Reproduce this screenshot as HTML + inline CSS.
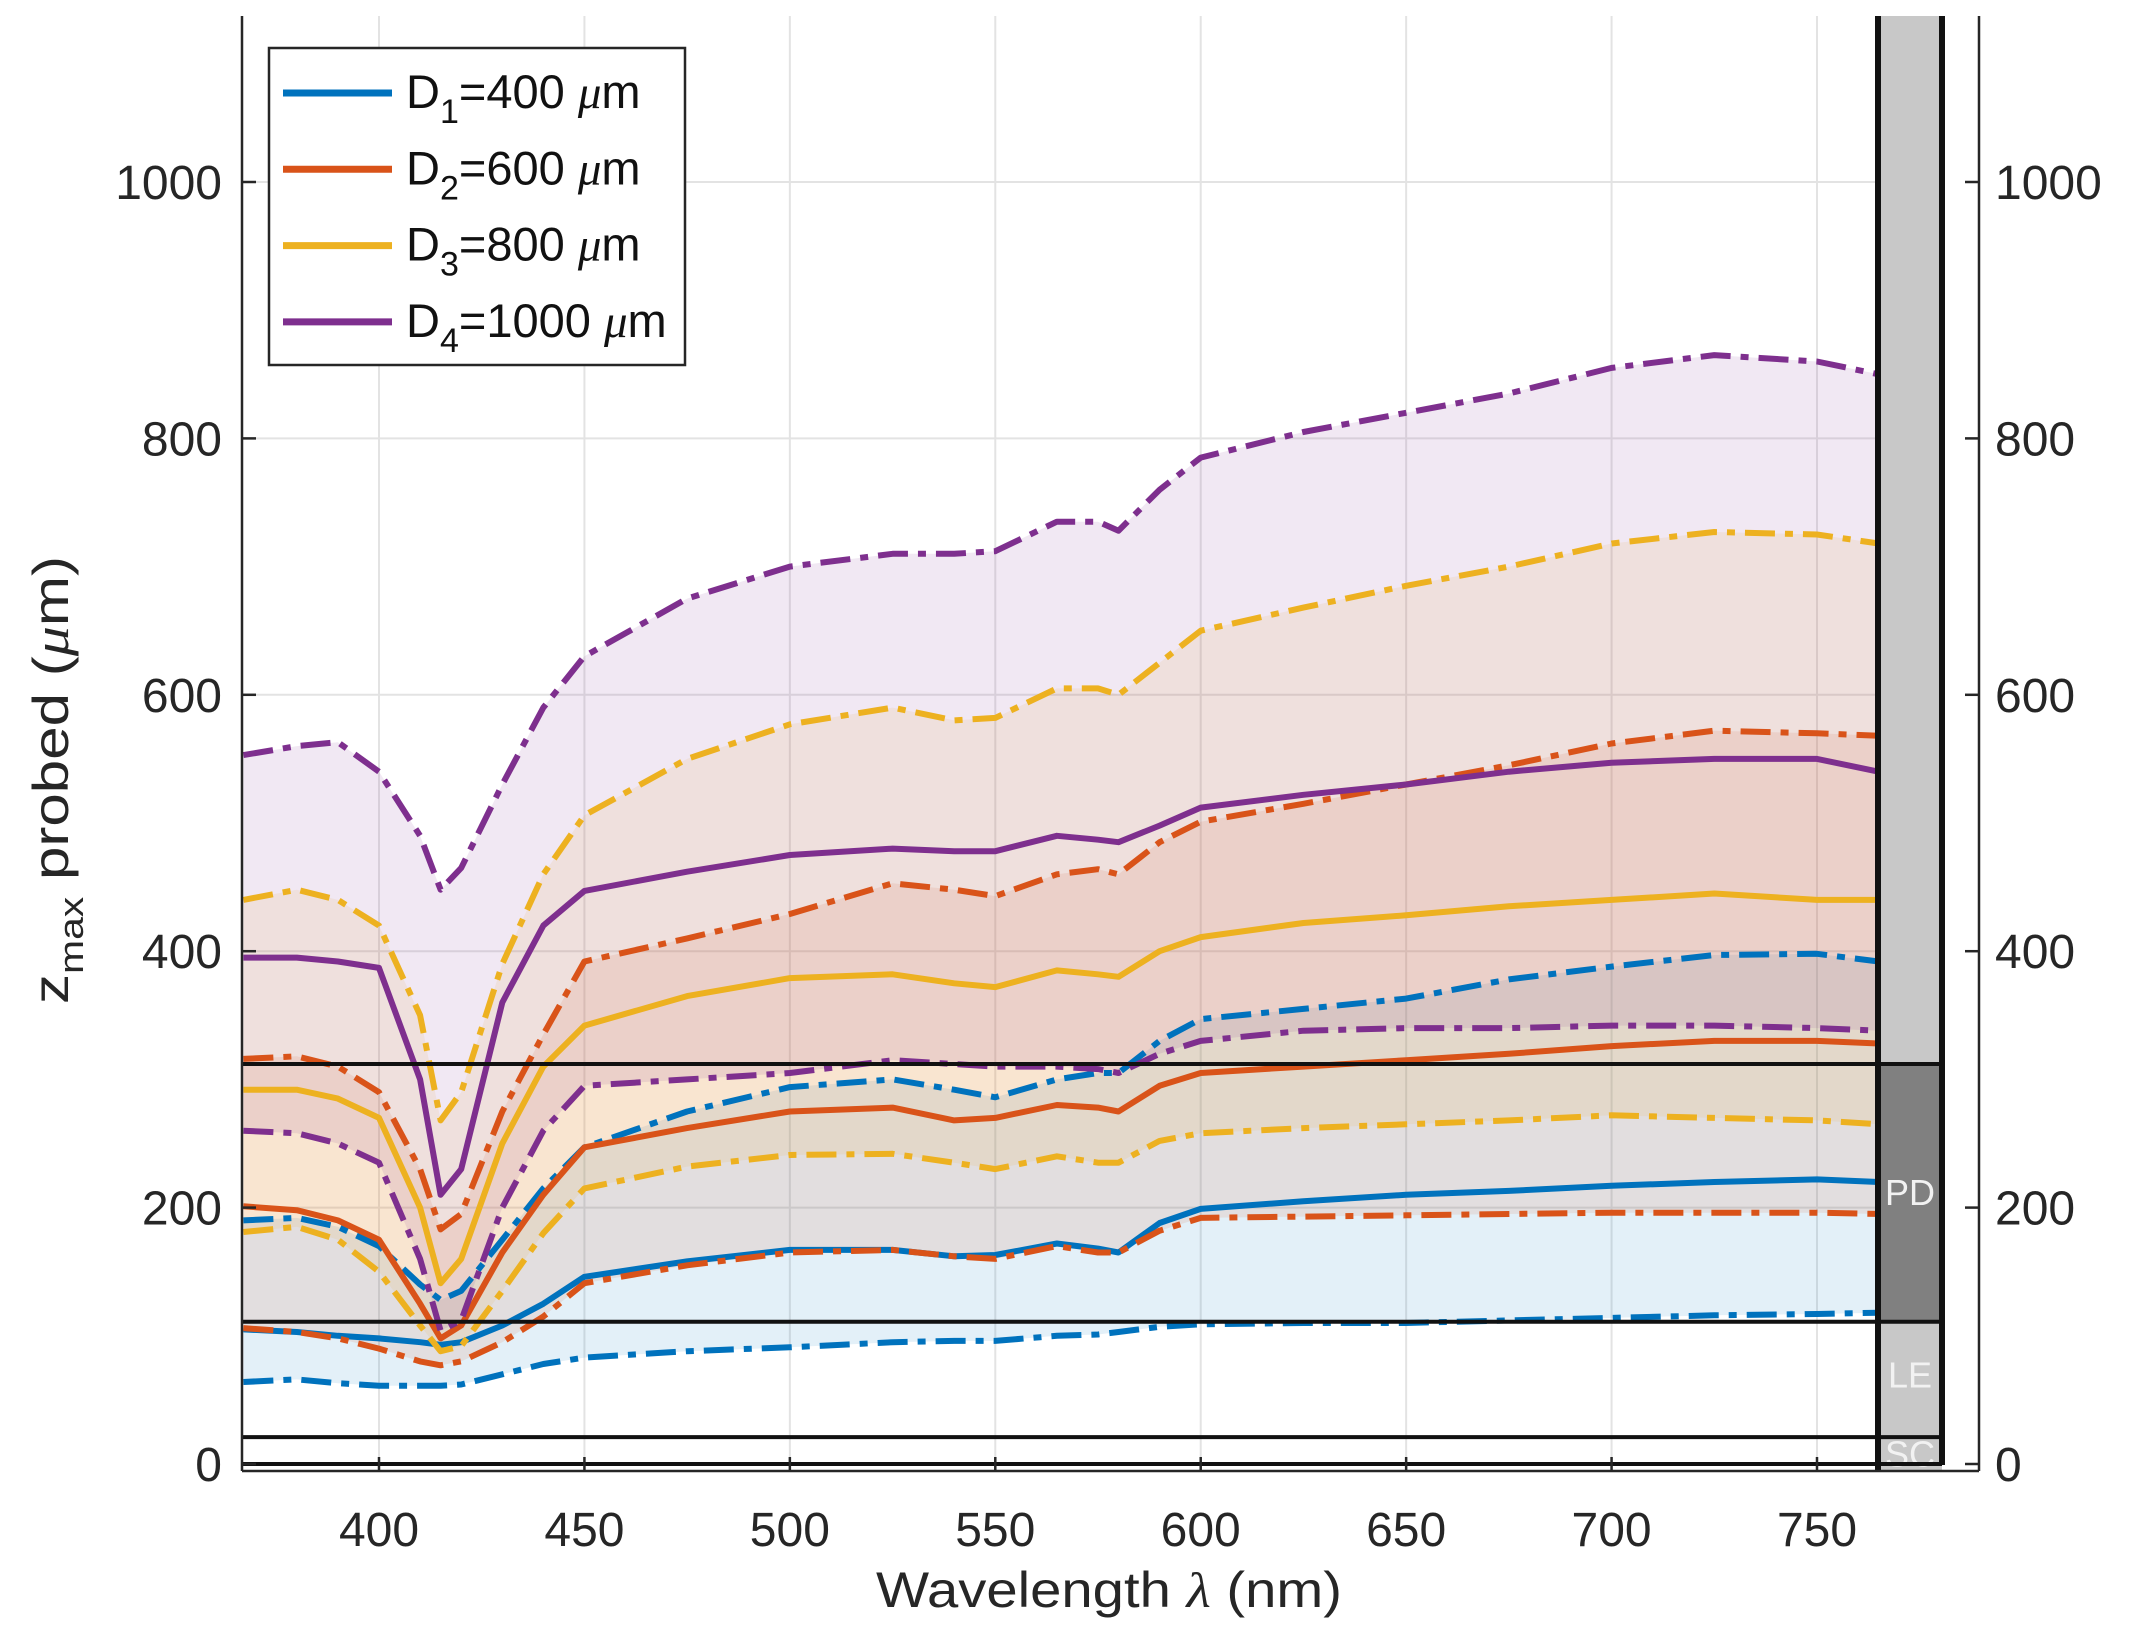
<!DOCTYPE html>
<html><head><meta charset="utf-8"><style>
html,body{margin:0;padding:0;background:#fff;}
svg{display:block;font-family:"Liberation Sans",sans-serif;}
</style></head><body>
<svg id="chart" width="2129" height="1633" viewBox="0 0 2129 1633" xmlns="http://www.w3.org/2000/svg"></svg>
<script>
const wavelengths=[367,380,390,400,410,415,420,430,440,450,475,500,525,540,550,565,575,580,590,600,625,650,675,700,725,750,765];
const d1Upper=[190,192,185,170,140,128,135,175,215,247,275,294,300,292,286,300,305,305,330,347,355,363,378,388,397,398,392];
const d1Mean=[105,103,100,98,95,93,95,108,125,146,158,167,167,162,163,172,168,165,188,199,205,210,213,217,220,222,220];
const d1Lower=[64,66,63,61,61,61,62,70,78,83,88,91,95,96,96,100,101,103,107,109,110,110,112,114,116,117,118];
const d2Upper=[316,318,310,290,230,183,195,275,335,392,410,429,453,448,443,460,464,460,485,501,515,530,545,562,572,570,568];
const d2Mean=[201,198,190,175,125,98,108,165,210,247,262,275,278,268,270,280,278,275,295,305,310,315,320,326,330,330,328];
const d2Lower=[106,103,98,90,80,77,80,95,115,141,155,165,167,162,160,170,165,165,182,192,193,194,195,196,196,196,195];
const d3Upper=[440,448,440,420,350,268,290,390,460,506,550,577,590,580,582,605,605,600,625,650,668,685,700,718,727,725,718];
const d3Mean=[292,292,285,270,200,141,160,250,310,342,365,379,382,375,372,385,382,380,400,411,422,428,435,440,445,440,440];
const d3Lower=[181,185,175,150,108,88,92,135,180,215,232,241,242,235,230,240,235,235,252,258,262,265,268,272,270,268,265];
const d4Upper=[553,560,563,540,490,448,465,530,590,630,675,700,710,710,712,735,735,728,760,785,805,820,835,855,865,860,850];
const d4Mean=[395,395,392,387,300,210,230,360,420,447,462,475,480,478,478,490,487,485,498,512,522,530,540,547,550,550,540];
const d4Lower=[260,258,250,235,160,104,112,200,260,295,300,305,315,312,310,310,308,305,320,330,338,340,340,342,342,340,338];
const xTicks=[400,450,500,550,600,650,700,750];
const yTicks=[0,200,400,600,800,1000];
const seriesNames=["D1","D2","D3","D4"];
const seriesColors=["#0072BD","#D95319","#EDB120","#7E2F8E"];
const legendLabels=[["1","400"],["2","600"],["3","800"],["4","1000"]];

const NS="http://www.w3.org/2000/svg";
const svg=document.getElementById('chart');
const L=242,R=1878,T=16,B=1471;
function xs(v){return 379+(v-400)*(1438/350);}
function ys(v){return 1464-v*1.282;}
function el(tag,attrs,parent){const e=document.createElementNS(NS,tag);for(const k in attrs)e.setAttribute(k,attrs[k]);(parent||svg).appendChild(e);return e;}

let bg=el('rect',{x:L,y:T,width:R-L,height:B-T,fill:'#fff'});



const grid=el('g',{stroke:'#e3e3e3','stroke-width':2});


xTicks.forEach(t=>{el('line',{x1:xs(t),x2:xs(t),y1:T,y2:B},grid);});
yTicks.forEach(t=>{el('line',{x1:L,x2:R,y1:ys(t),y2:ys(t)},grid);});

const all=[[d1Upper,d1Mean,d1Lower],[d2Upper,d2Mean,d2Lower],[d3Upper,d3Mean,d3Lower],[d4Upper,d4Mean,d4Lower]];
function pts(arr){return arr.map((v,i)=>xs(wavelengths[i]).toFixed(1)+','+ys(v).toFixed(1));}
all.forEach((s,k)=>{
  const p=pts(s[0]).concat(pts(s[2]).reverse());
  const f=el('polygon',{points:p.join(' '),fill:seriesColors[k],'fill-opacity':0.11});
  
  
});
all.forEach((s,k)=>{
  const names=['upper','mean','lower'];
  s.forEach((arr,j)=>{
    const a={points:pts(arr).join(' '),fill:'none',stroke:seriesColors[k],'stroke-width':6,'stroke-linejoin':'round'};
    if(j!==1)a['stroke-dasharray']='30 10 8 10';
    const l=el('polyline',a);
    
    
  });
});

const bar=el('g',{});


el('rect',{x:R,y:T,width:64,height:ys(312)-T,fill:'#c8c8c8'},bar);
el('rect',{x:R,y:ys(312),width:64,height:ys(111)-ys(312),fill:'#808080'},bar);
el('rect',{x:R,y:ys(111),width:64,height:ys(-5)-ys(111),fill:'#c8c8c8'},bar);
[[ '212','PD'],['70','LE'],['8','SC']].forEach(([v,t])=>{
  const tx=el('text',{x:R+32,y:ys(+v)+13,'text-anchor':'middle','font-size':36,fill:'#f2f2f2'},bar);tx.textContent=t;
  
  
});
[312,111,21,0].forEach(v=>{
  const h=el('line',{x1:L,x2:R+64,y1:ys(v),y2:ys(v),stroke:'#111','stroke-width':4});
  
  
});
el('line',{x1:R,x2:R,y1:T,y2:B,stroke:'#111','stroke-width':6});
el('line',{x1:R+64,x2:R+64,y1:T,y2:B-6,stroke:'#111','stroke-width':6});

const ax=el('g',{stroke:'#262626','stroke-width':2.5,fill:'none'});


el('line',{x1:L,x2:L,y1:T,y2:B},ax);
el('line',{x1:L,x2:1979,y1:B,y2:B},ax);
el('line',{x1:1979,x2:1979,y1:T,y2:B},ax);
xTicks.forEach(t=>{el('line',{x1:xs(t),x2:xs(t),y1:B,y2:B-14},ax);});
yTicks.forEach(t=>{el('line',{x1:L,x2:L+14,y1:ys(t),y2:ys(t)},ax);el('line',{x1:1979,x2:1965,y1:ys(t),y2:ys(t)},ax);});

const tl=el('g',{'font-size':48,fill:'#262626'});


xTicks.forEach(t=>{const e=el('text',{x:xs(t),y:1546,'text-anchor':'middle'},tl);e.textContent=t;});
yTicks.forEach(t=>{
  const a=el('text',{x:222,y:ys(t)+17,'text-anchor':'end'},tl);a.textContent=t;
  const b=el('text',{x:1995,y:ys(t)+17,'text-anchor':'start'},tl);b.textContent=t;
});
const xl=el('text',{x:876,y:1607,'font-size':50,fill:'#262626',textLength:466,lengthAdjust:'spacingAndGlyphs'});


xl.innerHTML='Wavelength <tspan font-family="Liberation Serif" font-style="italic">λ</tspan> (nm)';
const yl=el('text',{x:-224,y:0,'font-size':50,fill:'#262626',textLength:448,lengthAdjust:'spacingAndGlyphs',transform:'translate(68,780) rotate(-90)'});


yl.innerHTML='z<tspan font-size="34" dy="15">max</tspan><tspan dy="-15"> probed (</tspan><tspan font-family="Liberation Serif" font-style="italic">μ</tspan>m)';

const lg=el('g',{});


el('rect',{x:269,y:48,width:416,height:317,fill:'#fff',stroke:'#262626','stroke-width':2.5},lg);
legendLabels.forEach((lab,i)=>{
  const y=93+i*76.3;
  const ln=el('line',{x1:283,x2:392,y1:y,y2:y,stroke:seriesColors[i],'stroke-width':7},lg);
  
  
  const t=el('text',{x:406,y:y+15,'font-size':47,fill:'#111'},lg);
  
  
  t.innerHTML='D<tspan font-size="34" dy="15">'+lab[0]+'</tspan><tspan dy="-15">='+lab[1]+' </tspan><tspan font-family="Liberation Serif" font-style="italic">μ</tspan>m';
});
</script>
</body></html>
